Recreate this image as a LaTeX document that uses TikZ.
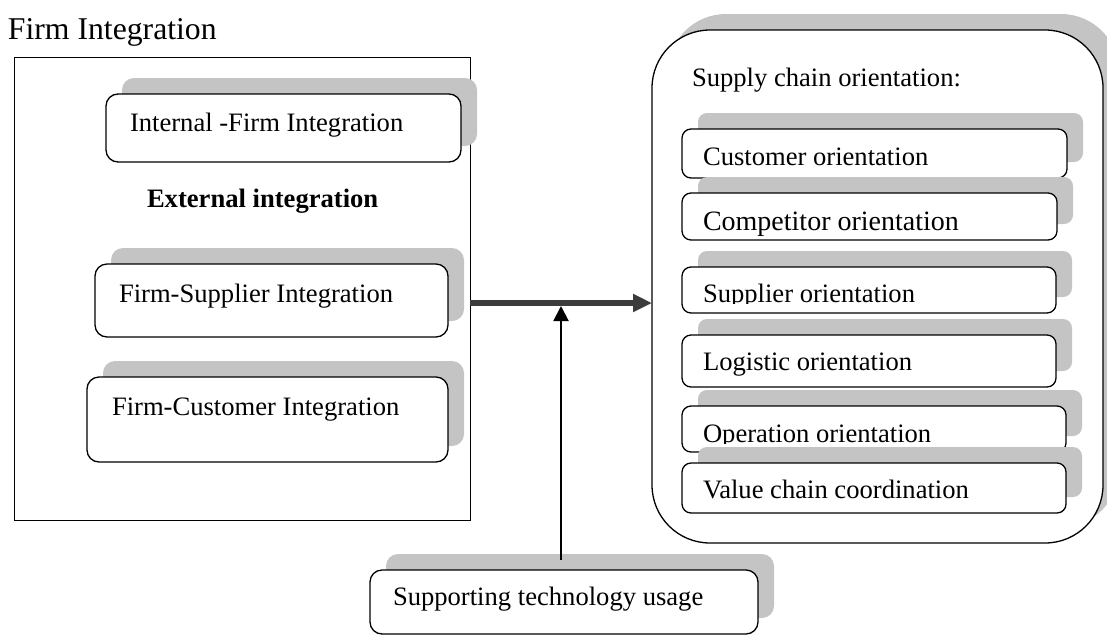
\documentclass[tikz,border=0pt]{standalone}
\usepackage{fontspec}
\setmainfont{Liberation Serif}
\usetikzlibrary{shadows,arrows.meta}
\definecolor{shadowgray}{RGB}{196,196,196}
\definecolor{arrowgray}{RGB}{60,60,60}
\begin{document}
\begin{tikzpicture}[x=1pt,y=-1pt,
  txt/.style={font=\fontsize{26.6}{30}\selectfont, inner sep=0pt, outer sep=0pt, anchor=base west},
  sbox/.style={draw, line width=1.3pt, fill=white, rounded corners=#1, inner sep=0pt, outer sep=0pt,
    anchor=north west,
    drop shadow={shadow xshift=16pt, shadow yshift=16pt, fill=shadowgray, opacity=1, draw=none}},
  sbox/.default=9pt,
  bigarrow/.style={line width=6pt, arrowgray, -{Triangle[length=19pt,width=17pt]}},
  thinarrow/.style={line width=2pt, black, -{Triangle[length=15pt,width=15pt]}}]
\useasboundingbox (0,0) rectangle (1107,635);

% left part
\node[txt, font=\fontsize{31.7}{36}\selectfont] (title) at (8,39) {Firm Integration};
\node[draw, line width=1pt, minimum width=456pt, minimum height=463pt, anchor=north west,
      inner sep=0pt, outer sep=0pt] (left) at (14,57) {};
\node[sbox=12pt, minimum width=355pt, minimum height=68pt] (internal) at (106,94) {};
\node[txt] (internalt) at (130,131) {Internal -Firm Integration};
\node[txt, font=\fontsize{26.6}{30}\selectfont\bfseries] (external) at (147,207) {External integration};
\node[sbox=12pt, minimum width=353pt, minimum height=73pt] (fsup) at (95,264) {};
\node[txt] (fsupt) at (119,302) {Firm-Supplier Integration};
\node[sbox=12pt, minimum width=361pt, minimum height=85pt] (fcus) at (87,377) {};
\node[txt] (fcust) at (112,415) {Firm-Customer Integration};

% right panel
\node[sbox=58pt, minimum width=451pt, minimum height=513pt] (panel) at (652,30) {};
\node[txt] (panelt) at (692,86) {Supply chain orientation:};
\node[sbox, minimum width=385pt, minimum height=49pt] (cus) at (682,129) {};
\node[txt] (cust) at (703,165) {Customer orientation};
\node[sbox, minimum width=375pt, minimum height=47pt] (com) at (682,193) {};
\node[txt, font=\fontsize{28}{32}\selectfont] (comt) at (703,230) {Competitor orientation};
\node[sbox, minimum width=374pt, minimum height=46pt] (sup) at (682,267) {};
\begin{scope}
  \clip (682,250) rectangle (1056,303.5);
  \node[txt] (supt) at (703,302) {Supplier orientation};
\end{scope}
\node[sbox, minimum width=374pt, minimum height=52pt] (log) at (682,335) {};
\node[txt] (logt) at (703,370) {Logistic orientation};
\node[sbox, minimum width=384pt, minimum height=46pt] (ope) at (682,406) {};
\begin{scope}
  \clip (682,390) rectangle (1066,443);
  \node[txt] (opet) at (703,442) {Operation orientation};
\end{scope}
\node[sbox, minimum width=384pt, minimum height=50pt] (val) at (682,463) {};
\node[txt] (valt) at (703,498) {Value chain coordination};

% technology
\node[sbox=12pt, minimum width=388pt, minimum height=64pt] (tech) at (370,570) {};
\node[txt] (techt) at (393,605) {Supporting technology usage};

% connectors
\coordinate (hy) at (561,303);
\draw[bigarrow] (left.east |- hy) -- (panel.west |- hy);
\draw[thinarrow] ([yshift=10pt]tech.north -| hy) -- ([yshift=-3pt]hy);
\end{tikzpicture}
\end{document}
